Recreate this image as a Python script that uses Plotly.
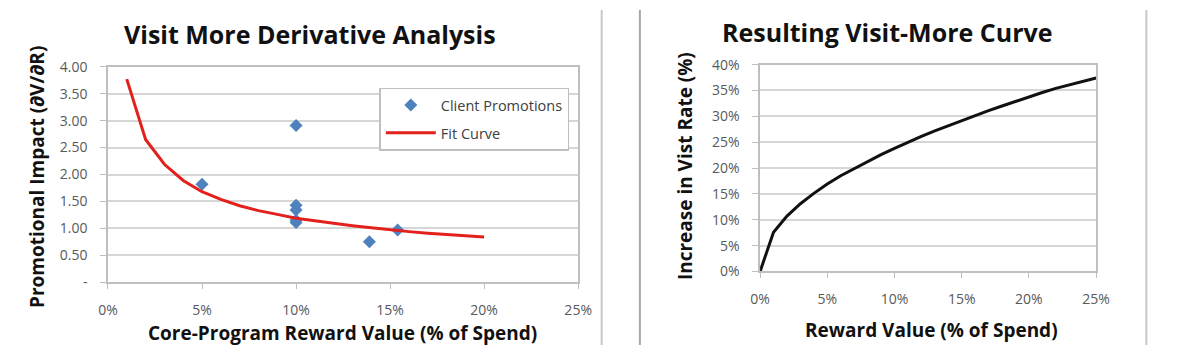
import plotly.graph_objects as go

# ---------------- data ----------------
# Left chart: client promotions (reward value %, promotional impact)
promo_x = [5.0, 10.0, 10.0, 10.0, 10.0, 10.0, 13.9, 15.4]
promo_y = [1.82, 2.91, 1.43, 1.34, 1.15, 1.11, 0.75, 0.97]

# Left chart: fit curve
fit_x = [1, 2, 3, 4, 5, 6, 7, 8, 9, 10, 11, 12, 13, 14, 15, 16, 17, 18, 19, 20]
fit_y = [3.77, 2.65, 2.19, 1.89, 1.68, 1.54, 1.42, 1.33, 1.26, 1.19,
         1.14, 1.09, 1.05, 1.01, 0.97, 0.94, 0.91, 0.89, 0.87, 0.84]

left_ytick_vals = [0, 0.5, 1.0, 1.5, 2.0, 2.5, 3.0, 3.5, 4.0]
left_ytick_text = ["-", "0.50", "1.00", "1.50", "2.00", "2.50", "3.00", "3.50", "4.00"]
x_tick_vals = [0, 5, 10, 15, 20, 25]
x_tick_text = ["0%", "5%", "10%", "15%", "20%", "25%"]

# Right chart: resulting visit-more curve
curve_x = [0, 1, 2, 3, 4, 5, 6, 7, 8, 9, 10, 11, 12, 13, 14, 15, 16, 17,
           18, 19, 20, 21, 22, 23, 24, 25]
curve_y = [0.0, 7.6, 10.7, 13.1, 15.1, 16.9, 18.5, 19.9, 21.3, 22.6, 23.8,
           25.0, 26.1, 27.2, 28.2, 29.2, 30.2, 31.1, 32.0, 32.9, 33.7,
           34.6, 35.4, 36.1, 36.8, 37.4]
right_ytick_vals = [0, 5, 10, 15, 20, 25, 30, 35, 40]
right_ytick_text = ["0%", "5%", "10%", "15%", "20%", "25%", "30%", "35%", "40%"]

# ---------------- layout helpers ----------------
W, H = 1177, 354
def px(x):
    return x / W
def py(y):
    return 1 - y / H

FONT = "Open Sans"
GRID = "#D6D6D6"
AXIS = "#BFBFBF"
TICKFONT = dict(family=FONT, size=14, color="#595959")

fig = go.Figure()

fig.add_trace(go.Scatter(
    x=promo_x, y=promo_y, mode="markers", name="Client Promotions",
    marker=dict(symbol="diamond", size=10, color="#4F81BD"),
    xaxis="x", yaxis="y", legendgroup="a"))
fig.add_trace(go.Scatter(
    x=fit_x, y=fit_y, mode="lines", name="Fit Curve",
    line=dict(color="#E3201B", width=3),
    xaxis="x", yaxis="y", legendgroup="b"))
fig.add_trace(go.Scatter(
    x=curve_x, y=curve_y, mode="lines", name="Visit-More Curve",
    line=dict(color="#111111", width=3), showlegend=False,
    xaxis="x2", yaxis="y2"))

common_x = dict(showgrid=False, zeroline=False, showline=True, linecolor=AXIS,
                linewidth=1.5, mirror=True, ticks="outside", ticklen=5,
                tickcolor=AXIS, tickfont=TICKFONT, fixedrange=True,
                ticklabelstandoff=9)
common_y = dict(showgrid=True, gridcolor=GRID, gridwidth=1.5, zeroline=False,
                showline=True, linecolor=AXIS, linewidth=1.5, mirror=True,
                ticks="outside", ticklen=6, tickcolor=AXIS, tickfont=TICKFONT,
                fixedrange=True, ticklabelstandoff=10)

fig.update_layout(
    width=W, height=H,
    margin=dict(l=0, r=0, t=0, b=0),
    paper_bgcolor="white", plot_bgcolor="white",
    showlegend=True,
    xaxis=dict(domain=[px(100), px(580)], range=[0, 25], tickvals=x_tick_vals,
               ticktext=x_tick_text, anchor="y", **common_x),
    yaxis=dict(domain=[py(287.7), py(60)], range=[0, 4], tickvals=left_ytick_vals,
               ticktext=left_ytick_text, anchor="x", **common_y),
    xaxis2=dict(domain=[px(765.7), px(1108.7)], range=[0, 25], tickvals=x_tick_vals,
                ticktext=x_tick_text, anchor="y2", **common_x),
    yaxis2=dict(domain=[py(276.3), py(57.7)], range=[0, 40], tickvals=right_ytick_vals,
                ticktext=right_ytick_text, anchor="x2", **common_y),
    legend=dict(x=px(377), y=py(82), xanchor="left", yanchor="top",
                bgcolor="white", bordercolor="#BFBFBF", borderwidth=1.5,
                font=dict(family=FONT, size=14.5, color="#404040"),
                itemwidth=50, tracegroupgap=6),
)

TITLE = dict(family=FONT, size=25, color="#111111")
AXT = dict(family=FONT, size=19, color="#111111")
annots = [
    dict(text="<b>Visit More Derivative Analysis</b>", x=px(306.5), y=py(25), font=TITLE),
    dict(text="<b>Resulting Visit-More Curve</b>", x=px(896), y=py(23.5), font=TITLE),
    dict(text="<b>Core-Program Reward Value (% of Spend)</b>", x=px(339), y=py(341),
         font=AXT, yanchor="middle"),
    dict(text="<b>Reward Value (% of Spend)</b>", x=px(941), y=py(338.5), font=AXT),
    dict(text="<b>Promotional Impact (∂V/∂R)</b>", x=px(27), y=py(176), font=AXT, textangle=-90),
    dict(text="<b>Increase in Vist Rate (%)</b>", x=px(689), y=py(165), font=AXT, textangle=-90),
]
for a in annots:
    a.update(xref="paper", yref="paper", xanchor="center", showarrow=False)
    a.setdefault("yanchor", "middle")
fig.update_layout(annotations=annots)

# frame lines around the right panel
for xx, col in [(604, "#C8C8C8"), (643, "#A6A6A6"), (1160, "#C8C8C8")]:
    fig.add_shape(type="line", xref="paper", yref="paper", x0=px(xx), x1=px(xx),
                  y0=0, y1=1, line=dict(color=col, width=2))

fig.write_html("out.html")
